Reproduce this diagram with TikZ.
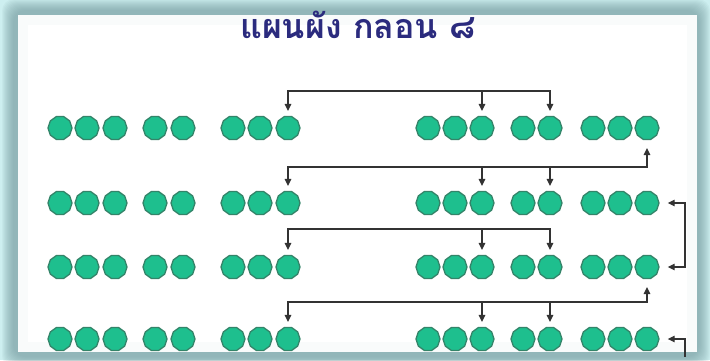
\documentclass[tikz,border=0pt]{standalone}
\usepackage{fontspec}
\newfontfamily\thaifont[Script=Thai]{Loma}
\usetikzlibrary{shapes.geometric,arrows.meta}
\definecolor{bgc}{HTML}{CDEFF0}
\definecolor{shc}{HTML}{6F9598}
\definecolor{dotfill}{HTML}{1EBF8E}
\definecolor{dotline}{HTML}{348469}
\definecolor{titlec}{HTML}{2B2B7E}
\definecolor{linec}{HTML}{333333}
\tikzset{
  dot/.style={regular polygon, regular polygon sides=10, minimum size=24pt, inner sep=0pt,
    fill=dotfill, draw=dotline, line width=1.3pt},
  ln/.style={draw=linec, line width=1.2pt, line cap=rect},
  tip/.style={-{Triangle[length=7pt,width=6.5pt]}},
  arr/.style={ln, tip, shorten >=5pt},
  arrup/.style={ln, tip, shorten >=8pt},
  arrb/.style={ln, {Triangle[length=7pt,width=6.5pt]}-{Triangle[length=7pt,width=6.5pt]},
    shorten >=8pt, shorten <=8pt},
}
\begin{document}
\begin{tikzpicture}[x=1pt,y=-1pt]
\useasboundingbox (0,0) rectangle (710,360);
% background and framed panel
\fill[bgc] (0,0) rectangle (710,360);
\foreach \i in {0,...,11}
  \fill[shc, opacity=0.07, rounded corners=12pt] (2+\i,-1+\i) rectangle (710-\i,368-\i);
\fill[white] (18,15) rectangle (697,352);
\foreach \i in {1,...,5}
  \draw[shc, opacity=0.035, line width=2pt] (17+2*\i,14+2*\i) rectangle (698-2*\i,353-2*\i);
\fill[white] (29,26) rectangle (686,341);
% title
\node[text=titlec, font=\thaifont\bfseries\fontsize{34}{34}\selectfont] (title) at (358,25) {แผนผัง กลอน ๘};
% dots
\foreach \ri/\y in {1/128,2/203,3/267,4/339}{
  \foreach \ci/\x in {1/60,2/87,3/115,4/155,5/183,6/233,7/260,8/288,9/428,10/455,11/482,12/523,13/550,14/593,15/620,16/647}{
    \node[dot] (r\ri c\ci) at (\x,\y) {};
  }
}
% helper coordinates
\coordinate (h1) at (0,91);
\coordinate (h2) at (0,167);
\coordinate (h3) at (0,229);
\coordinate (h4) at (0,302);
\coordinate (vr) at (685,0);
\coordinate (bot) at (685,356);
% row 1
\draw[arr] (r1c13 |- h1) -| (r1c8);
\draw[arr] (r1c13 |- h1) -- (r1c13);
\draw[arr] (r1c11 |- h1) -- (r1c11);
% row 2
\draw[arrup] (r2c8 |- h2) -| (r1c16);
\draw[arr] (r2c8 |- h2) -- (r2c8);
\draw[arr] (r2c11 |- h2) -- (r2c11);
\draw[arr] (r2c13 |- h2) -- (r2c13);
% bracket rows 2-3
\draw[arrb] (r2c16) -- (r2c16 -| vr) -- (r3c16 -| vr) -- (r3c16);
% row 3
\draw[arr] (r3c13 |- h3) -| (r3c8);
\draw[arr] (r3c13 |- h3) -- (r3c13);
\draw[arr] (r3c11 |- h3) -- (r3c11);
% row 4
\draw[arrup] (r4c8 |- h4) -| (r3c16);
\draw[arr] (r4c8 |- h4) -- (r4c8);
\draw[arr] (r4c11 |- h4) -- (r4c11);
\draw[arr] (r4c13 |- h4) -- (r4c13);
\draw[ln, tip, shorten >=8pt] (bot) |- (r4c16);
\end{tikzpicture}
\end{document}
